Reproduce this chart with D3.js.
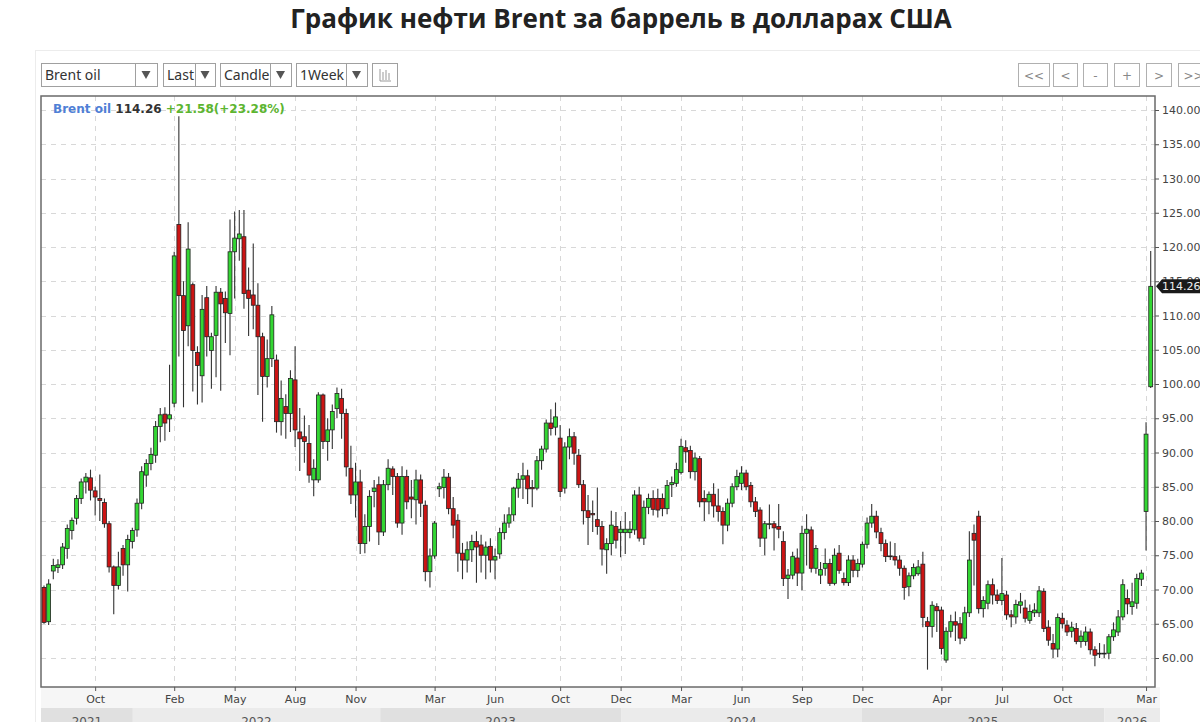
<!DOCTYPE html>
<html>
<head>
<meta charset="utf-8">
<script src="https://cdn.jsdelivr.net/npm/d3@7"></script>
<style>
  body { margin: 0; background: #fff; }
  svg { display: block; }
</style>
</head>
<body>
<svg id="chart" width="1200" height="722"></svg>
<script>
// weekly candles
var opens = [70.3,65.3,72.7,73.2,73.6,76.0,78.6,80.4,83.3,85.7,86.3,84.4,83.3,82.7,79.6,73.3,70.6,76.0,73.6,77.0,
  78.7,82.6,86.7,88.4,89.6,93.8,95.6,94.9,97.2,123.3,112.9,108.5,114.5,104.6,101.2,112.6,104.9,107.1,113.4,112.5,
  110.3,119.3,121.2,121.5,113.7,113.0,111.5,106.9,101.1,103.7,103.5,94.5,96.7,95.7,100.6,93.0,92.3,91.3,86.0,86.0,
  98.4,91.6,93.3,96.4,97.9,95.7,87.7,83.8,85.7,76.7,79.2,84.3,85.3,78.4,85.3,87.6,86.5,79.7,86.5,83.5,
  83.1,86.0,82.3,72.6,74.9,84.7,84.9,86.4,81.8,80.1,75.3,74.3,75.8,77.0,76.5,75.0,76.3,74.3,75.2,78.3,
  79.7,80.9,84.8,86.1,86.6,84.9,84.8,88.8,90.5,94.3,93.7,92.1,84.8,90.8,92.3,89.6,85.3,81.5,81.1,80.2,
  79.2,75.8,76.7,79.2,78.3,78.3,78.3,78.7,83.8,77.5,82.0,83.3,83.3,83.3,81.8,85.3,85.5,87.1,90.7,90.3,
  87.2,89.1,83.3,82.8,83.9,82.2,81.4,79.4,82.6,85.0,85.5,87.0,85.2,82.8,81.6,77.5,79.5,79.6,79.2,77.0,
  71.6,72.1,74.6,72.4,78.2,78.7,73.1,72.1,73.1,73.8,70.9,75.3,71.6,71.0,74.3,72.8,73.7,76.6,79.7,80.7,
  78.3,76.7,74.9,74.8,74.3,73.1,70.4,72.0,72.3,73.7,65.3,64.6,67.5,67.0,59.7,63.9,65.3,65.0,62.9,66.6,
  78.2,80.7,67.2,68.0,70.7,69.2,68.4,69.2,66.3,66.0,67.7,67.3,65.5,66.6,66.6,69.7,64.5,62.1,61.3,65.8,
  64.8,63.9,64.3,62.4,62.4,63.8,61.2,60.6,60.7,60.7,63.1,63.8,66.0,68.7,67.5,68.0,71.5,81.4,99.6]
var highs = [70.6,71.5,74.5,74.4,76.8,79.5,80.5,83.8,86.2,87.0,87.5,85.0,86.8,83.3,80.0,73.5,75.5,76.5,78.0,79.0,
  83.3,88.0,89.0,90.7,94.6,96.5,96.6,102.8,119.3,139.1,115.0,123.6,114.8,105.5,113.0,114.3,107.5,114.3,114.0,113.5,
  124.0,125.2,125.4,125.4,117.0,120.5,114.7,107.5,106.5,111.4,104.3,100.5,98.5,102.0,105.5,96.5,95.4,94.0,89.0,98.8,
  98.6,95.0,97.0,99.5,99.3,96.4,91.0,88.5,87.5,81.0,84.5,86.0,86.5,86.0,89.0,88.0,87.0,88.0,87.5,86.0,
  87.5,86.8,83.0,76.0,80.0,85.6,87.6,87.0,83.5,81.0,76.8,77.0,78.0,78.5,78.0,77.0,77.5,76.0,79.0,81.0,
  82.0,85.0,87.0,88.5,87.5,86.0,89.5,91.0,94.8,96.3,97.3,94.0,91.5,93.5,93.0,90.5,86.0,83.8,83.0,84.9,
  80.0,77.5,81.5,81.3,80.0,81.3,80.0,84.5,85.0,83.0,84.0,84.5,84.7,84.0,86.0,86.5,88.5,92.0,91.8,91.0,
  90.0,89.5,84.5,84.3,85.5,84.7,82.0,83.3,85.5,87.5,88.0,87.5,85.7,83.5,82.0,80.0,82.4,80.0,82.5,78.5,
  73.0,75.5,76.0,79.3,81.0,79.2,76.5,74.0,76.0,74.5,76.0,76.5,72.5,75.0,75.0,74.5,77.0,80.5,82.5,81.5,
  79.0,77.3,77.0,76.8,75.0,73.5,72.5,73.8,74.3,75.5,66.0,68.3,68.0,67.5,64.5,66.3,66.8,66.0,67.5,78.5,
  79.5,81.5,69.0,71.3,71.6,70.0,74.6,69.8,67.0,68.5,69.5,68.5,67.8,68.0,70.5,70.2,65.5,63.5,66.5,66.6,
  65.5,65.3,65.1,64.0,64.6,64.3,61.7,62.2,62.0,63.5,65.2,67.0,71.5,70.0,71.0,72.3,72.9,94.4,119.4]
var lows = [65.0,64.8,71.5,72.4,73.0,74.5,77.3,79.5,82.5,84.0,83.0,80.8,80.0,79.0,72.5,66.4,70.0,72.0,69.7,76.0,
  77.7,81.7,85.0,87.4,88.5,91.5,91.7,93.0,96.6,104.0,96.6,105.5,98.9,97.0,97.3,104.0,99.3,101.0,99.0,106.0,
  104.2,112.5,118.0,111.0,107.0,108.0,98.4,94.5,99.5,102.5,92.9,92.5,92.0,93.0,90.8,87.3,88.5,85.6,83.6,85.6,
  90.5,88.8,90.5,95.0,92.0,86.5,82.5,80.5,75.2,75.3,77.0,82.0,76.5,77.8,84.5,83.8,79.0,78.0,81.7,80.4,
  79.5,80.6,71.2,70.3,74.5,83.5,83.3,81.0,77.5,72.6,71.5,72.5,74.0,71.0,72.5,71.5,72.5,71.5,74.5,77.3,
  79.0,80.0,83.4,83.2,82.5,82.0,84.5,87.5,90.0,92.5,92.5,83.5,84.0,89.0,88.2,84.8,79.5,76.5,78.4,78.0,
  73.5,72.3,75.0,76.0,74.7,75.2,77.5,78.0,77.0,76.5,81.0,80.8,80.5,80.7,81.0,83.5,85.0,86.8,88.5,86.2,
  85.9,82.0,80.0,81.0,80.5,79.9,76.6,78.5,82.0,84.5,84.5,84.5,82.0,80.6,76.2,75.0,78.8,75.7,77.5,70.5,
  68.6,71.5,70.5,69.9,73.5,72.5,72.3,70.8,72.0,70.5,70.6,72.3,70.6,70.5,71.8,71.8,73.2,76.0,79.0,77.5,
  75.6,74.0,74.3,73.5,72.0,68.5,69.0,71.5,72.0,64.5,58.3,63.0,63.8,60.5,59.3,63.0,62.5,62.0,62.5,66.0,
  70.6,66.5,65.9,67.1,67.8,67.9,67.7,65.6,64.5,65.0,66.5,65.2,65.0,66.0,66.0,63.8,61.8,60.0,60.1,64.3,
  63.2,63.0,62.0,61.5,61.8,60.5,58.8,60.0,60.0,59.8,62.5,63.2,65.5,66.4,66.3,67.2,70.5,75.7,99.4]
var closes = [65.2,70.8,73.5,73.6,76.2,78.9,80.1,83.3,85.7,86.4,84.5,83.5,83.0,79.6,73.3,70.6,73.3,73.6,77.3,78.6,
  82.6,87.2,88.4,89.7,93.8,95.5,94.3,95.5,118.7,112.9,107.8,119.7,104.9,102.7,110.9,106.9,106.9,113.4,111.7,110.4,
  119.3,121.3,121.9,113.2,112.5,111.5,106.9,101.1,103.7,110.1,94.5,97.9,95.7,100.8,93.3,92.0,91.6,86.7,87.7,98.4,
  91.6,93.3,96.0,98.6,95.7,87.9,83.8,85.7,76.7,79.2,83.6,84.8,78.4,85.3,87.7,86.5,79.7,86.5,82.8,83.2,
  86.0,82.6,72.6,74.9,79.7,85.0,86.4,81.8,79.4,75.3,74.3,75.8,77.0,76.2,75.0,76.2,74.3,74.8,78.3,79.7,
  80.9,84.8,86.1,86.6,84.7,84.7,88.8,90.5,94.3,93.5,95.2,84.3,90.8,92.3,89.9,85.3,81.5,80.5,80.9,79.2,
  75.9,76.7,79.4,77.2,78.8,78.8,78.8,83.8,77.5,82.0,83.3,81.7,81.6,81.8,85.2,85.6,87.5,90.9,90.1,87.2,
  89.2,82.8,82.8,83.9,82.2,81.4,79.4,82.6,85.0,86.5,87.0,85.0,82.8,81.4,77.5,79.6,79.6,79.0,78.8,71.6,
  72.1,74.8,72.4,78.2,78.8,73.1,76.0,72.9,73.8,70.9,75.0,72.8,71.0,74.3,72.8,73.8,76.6,79.7,80.7,78.4,
  76.7,74.8,74.8,74.3,73.1,70.3,72.0,73.2,73.3,65.9,64.6,67.7,66.9,61.4,63.9,65.3,64.8,62.9,66.6,74.3,
  77.2,67.2,68.4,70.7,69.2,68.4,69.4,66.3,66.0,67.8,68.2,65.8,66.8,67.0,69.8,64.3,62.6,61.3,65.9,65.0,
  63.8,64.5,62.4,63.2,63.8,61.2,60.4,60.7,60.7,63.1,64.1,66.0,70.7,67.9,68.2,71.6,72.4,92.68,114.26]

var tickIdx = [11, 28, 41, 54, 67, 84, 97, 111, 124, 137, 150, 163, 176, 193, 206, 219, 237]
var tickLabels = ['Oct','Feb','May','Aug','Nov','Mar','Jun','Oct','Dec','Mar','Jun','Sep','Dec','Apr','Jul','Oct','Mar']
var years = ['2021','2022','2023','2024','2025','2026']
var yearStart = [-0.65, 19.1, 72.3, 124.1, 175.9, 228]
var priceTicks = d3.range(60, 141, 5)

var lastPrice = 114.26, change = 21.58, changePct = 23.28

//
// Layout
//

var svg = d3.select('#chart')
var plotL = 41, plotR = 1155, plotT = 96, plotB = 687
var n = closes.length
var x = d3.scaleLinear().domain([0, n - 1]).range([44, 1150.7])
var y = d3.scaleLinear().domain([60, 140]).range([658, 110])
var font = 'DejaVu Sans, sans-serif'

// page title
svg.append('text')
  .attr('x', 621).attr('y', 28)
  .attr('text-anchor', 'middle')
  .style('font-family', 'Open Sans, Noto Sans, sans-serif')
  .style('font-weight', 700).style('font-size', '26px').style('fill', '#222')
  .text('График нефти Brent за баррель в долларах США')

// widget frame
svg.append('rect').attr('x', 35.5).attr('y', 50.5).attr('width', 1170).attr('height', 690)
  .attr('fill', 'none').attr('stroke', '#ececec')

//
// Toolbar
//

var drops = [
  { label: 'Brent oil', x: 41, w: 116, div: 135 },
  { label: 'Last', x: 163, w: 52, div: 195 },
  { label: 'Candle', x: 220, w: 71, div: 270 },
  { label: '1Week', x: 296, w: 71, div: 346 }
]
drops.forEach(function (d) {
  var g = svg.append('g')
  g.append('rect').attr('x', d.x + 0.5).attr('y', 63.5).attr('width', d.w).attr('height', 23)
    .attr('fill', '#fff').attr('stroke', '#a0a0a0')
  g.append('line').attr('x1', d.div + 0.5).attr('x2', d.div + 0.5).attr('y1', 64).attr('y2', 86)
    .attr('stroke', '#a0a0a0')
  g.append('text').attr('x', d.x + 4).attr('y', 80)
    .style('font-family', 'Noto Sans, sans-serif').style('font-size', '14px').style('fill', '#333')
    .text(d.label)
  var ax = (d.div + d.x + d.w) / 2
  g.append('path').attr('d', 'M' + (ax - 4.5) + ',71 L' + (ax + 4.5) + ',71 L' + ax + ',79 Z').attr('fill', '#555')
})
// small chart icon box
svg.append('rect').attr('x', 372.5).attr('y', 63.5).attr('width', 25).attr('height', 23)
  .attr('fill', '#fff').attr('stroke', '#a0a0a0')
svg.append('path').attr('d', 'M380,69 V81 H391 M383,72 V80 M386,70 V80 M389,73 V80')
  .attr('fill', 'none').attr('stroke', '#999').attr('stroke-width', 1)

var navBtns = [
  { t: '<<', x: 1018, w: 31 }, { t: '<', x: 1053, w: 24 }, { t: '-', x: 1083, w: 24 },
  { t: '+', x: 1114, w: 25 }, { t: '>', x: 1146, w: 25 }, { t: '>>', x: 1178, w: 30 }
]
navBtns.forEach(function (b) {
  svg.append('rect').attr('x', b.x + 0.5).attr('y', 63.5).attr('width', b.w).attr('height', 23)
    .attr('fill', '#fff').attr('stroke', '#b0b0b0')
  svg.append('text').attr('x', b.x + b.w / 2 + 0.5).attr('y', 80).attr('text-anchor', 'middle')
    .style('font-family', font).style('font-size', '12px').style('fill', '#888')
    .text(b.t)
})

//
// Axis area backgrounds
//

svg.append('rect').attr('x', plotL).attr('y', plotB).attr('width', plotR - plotL + 5).attr('height', 21)
  .attr('fill', '#f6f6f6')
years.forEach(function (yr, i) {
  var x0 = i === 0 ? plotL : x(yearStart[i])
  var x1 = i === years.length - 1 ? 1160 : x(yearStart[i + 1])
  svg.append('rect').attr('x', x0).attr('y', 708).attr('width', x1 - x0).attr('height', 20)
    .attr('fill', i % 2 === 0 ? '#e0e0e0' : '#ebebeb')
  svg.append('text').attr('x', (x0 + x1) / 2).attr('y', 726).attr('text-anchor', 'middle')
    .style('font-family', font).style('font-size', '12px').style('fill', '#555')
    .text(yr)
})

//
// Grid
//

var grid = svg.append('g').attr('stroke', '#d8d8d8').attr('stroke-dasharray', '5,5').attr('stroke-width', 1)
priceTicks.forEach(function (p) {
  grid.append('line').attr('x1', plotL).attr('x2', plotR)
    .attr('y1', Math.round(y(p)) + 0.5).attr('y2', Math.round(y(p)) + 0.5)
})
tickIdx.forEach(function (i) {
  grid.append('line').attr('y1', plotT).attr('y2', plotB)
    .attr('x1', Math.round(x(i)) + 0.5).attr('x2', Math.round(x(i)) + 0.5)
})

// plot border
svg.append('rect').attr('x', plotL).attr('y', plotT).attr('width', plotR - plotL).attr('height', plotB - plotT)
  .attr('fill', 'none').attr('stroke', '#6a6a6a').attr('stroke-width', 1.5)

//
// Axes
//

var yAxis = d3.axisRight(y).tickValues(priceTicks).tickSize(4).tickPadding(3)
  .tickFormat(function (d) { return d.toFixed(2) })
var gy = svg.append('g').attr('transform', 'translate(' + plotR + ',0)').call(yAxis)
gy.select('.domain').remove()
gy.selectAll('line').attr('stroke', '#555')
gy.selectAll('text').style('font-family', font).style('font-size', '11px').style('fill', '#444')

var xAxis = d3.axisBottom(x).tickValues(tickIdx).tickSize(4).tickPadding(4)
  .tickFormat(function (d, i) { return tickLabels[i] })
var gx = svg.append('g').attr('transform', 'translate(0,' + plotB + ')').call(xAxis)
gx.select('.domain').remove()
gx.selectAll('line').attr('stroke', '#555')
gx.selectAll('text').style('font-family', font).style('font-size', '11px').style('fill', '#444')

//
// Candles
//

var idx = d3.range(n)
var bodyW = 3.9
var candles = svg.append('g')
candles.selectAll('line.wick').data(idx).enter().append('line')
  .attr('class', 'wick')
  .attr('x1', function (i) { return x(i) }).attr('x2', function (i) { return x(i) })
  .attr('y1', function (i) { return y(highs[i]) }).attr('y2', function (i) { return y(lows[i]) })
  .attr('stroke', '#333').attr('stroke-width', 1.1)
candles.selectAll('rect.body').data(idx).enter().append('rect')
  .attr('class', 'body')
  .attr('x', function (i) { return x(i) - bodyW / 2 })
  .attr('width', bodyW)
  .attr('y', function (i) { return y(Math.max(opens[i], closes[i])) })
  .attr('height', function (i) { return Math.max(0.8, Math.abs(y(opens[i]) - y(closes[i]))) })
  .attr('fill', function (i) { return closes[i] >= opens[i] ? '#33d633' : '#cc1414' })
  .attr('stroke', '#222').attr('stroke-width', 0.8)

//
// Legend + last price marker
//

var legend = svg.append('text').attr('x', 53).attr('y', 113)
  .style('font-family', font).style('font-weight', 700).style('font-size', '12px')
legend.append('tspan').style('fill', '#4f7fd6').text('Brent oil ')
legend.append('tspan').style('fill', '#333').text(lastPrice.toFixed(2) + ' ')
legend.append('tspan').style('fill', '#5cb530')
  .text('+' + change.toFixed(2) + '(+' + changePct.toFixed(2) + '%)')

var ly = y(lastPrice)
svg.append('path')
  .attr('d', 'M' + (plotR + 1) + ',' + ly + ' L' + (plotR + 7) + ',' + (ly - 7) + ' H1200 V' + (ly + 7) + ' H' + (plotR + 7) + ' Z')
  .attr('fill', '#1a1a1a')
svg.append('text').attr('x', plotR + 7).attr('y', ly + 4)
  .style('font-family', font).style('font-size', '11px').style('fill', '#eee')
  .text(lastPrice.toFixed(2))
</script>
</body>
</html>
